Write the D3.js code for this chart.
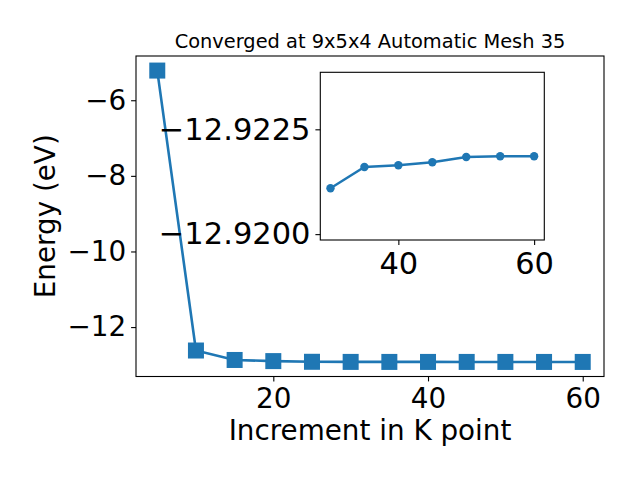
<!DOCTYPE html>
<html><head><meta charset="utf-8">
<script src="https://cdn.jsdelivr.net/npm/d3@7"></script>
<style>body{margin:0;background:#fff}svg{display:block}text{font-family:"DejaVu Sans",sans-serif}</style>
</head><body>
<script>
const kPoints = [5,10,15,20,25,30,35,40,45,50,55,60];
const energies = [-5.215,-12.62,-12.87,-12.90,-12.918,-12.921093,-12.921601,-12.921642,-12.921714,-12.92184,-12.921857,-12.921857];
const insetK = [30,35,40,45,50,55,60];
const insetE = [-12.921093,-12.921601,-12.921642,-12.921714,-12.92184,-12.921857,-12.921857];
const xTicks = [20,40,60];
const yTicks = [-6,-8,-10,-12];
const insetXTicks = [40,60];
const insetYTicks = [-12.9225,-12.9200];
const insetYLabels = ["\u221212.9225","\u221212.9200"];
const titleText = "Converged at 9x5x4 Automatic Mesh 35";
const xLabel = "Increment in K point";
const yLabel = "Energy (eV)";

const W=640,H=480, color="#1f77b4";
const svg=d3.select("body").append("svg").attr("width",W).attr("height",H);
const L=136,R=604,T=56,B=376.5;
const xr=d3.extent(kPoints), xp=(xr[1]-xr[0])*0.05;
const x=d3.scaleLinear().domain([xr[0]-xp,xr[1]+xp]).range([L,R]);
const yr=d3.extent(energies), yp=(yr[1]-yr[0])*0.05;
const y=d3.scaleLinear().domain([yr[0]-yp,yr[1]+yp]).range([B,T]);
const fmt=d=>d<0?"\u2212"+Math.abs(d):String(d);

const gx=svg.append("g").attr("transform",`translate(0,${B})`)
  .call(d3.axisBottom(x).tickValues(xTicks).tickSize(4.9).tickPadding(4.9).tickFormat(fmt));
const gy=svg.append("g").attr("transform",`translate(${L},0)`)
  .call(d3.axisLeft(y).tickValues(yTicks).tickSize(4.9).tickPadding(4.9).tickFormat(fmt));
[gx,gy].forEach(g=>{g.select(".domain").remove();g.selectAll("line").attr("stroke","#000").attr("stroke-width",1.1);
  g.selectAll("text").attr("font-size",27.8).attr("fill","#000").attr("font-family","DejaVu Sans");});
gx.selectAll("text").attr("dy","0.78em");

svg.append("path").datum(kPoints.map((k,i)=>[k,energies[i]]))
  .attr("d",d3.line().x(d=>x(d[0])).y(d=>y(d[1]))).attr("fill","none").attr("stroke",color).attr("stroke-width",2.6);
svg.selectAll("rect.m").data(kPoints).enter().append("rect").attr("class","m")
  .attr("x",(d)=>x(d)-8).attr("y",(d,i)=>y(energies[i])-8).attr("width",16).attr("height",16).attr("fill",color);
svg.append("rect").attr("x",L).attr("y",T).attr("width",R-L).attr("height",B-T).attr("fill","none").attr("stroke","#000").attr("stroke-width",1.1);

svg.append("text").attr("x",(L+R)/2).attr("y",48).attr("text-anchor","middle").attr("font-size",19.4).text(titleText);
svg.append("text").attr("x",(L+R)/2).attr("y",440).attr("text-anchor","middle").attr("font-size",27.8).text(xLabel);
svg.append("text").attr("transform",`translate(55,${(T+B)/2}) rotate(-90)`).attr("text-anchor","middle").attr("font-size",27.8).text(yLabel);

// inset
const iL=320.3,iR=544.3,iT=72.3,iB=240;
const ix=d3.scaleLinear().domain([28.5,61.5]).range([iL,iR]);
const iy=d3.scaleLinear().domain([-12.91986,-12.92386]).range([iB,iT]);
svg.append("rect").attr("x",iL).attr("y",iT).attr("width",iR-iL).attr("height",iB-iT).attr("fill","#fff");
const igx=svg.append("g").attr("transform",`translate(0,${iB})`)
  .call(d3.axisBottom(ix).tickValues(insetXTicks).tickSize(4.9).tickPadding(4.9));
const igy=svg.append("g").attr("transform",`translate(${iL},0)`)
  .call(d3.axisLeft(iy).tickValues(insetYTicks).tickSize(4.9).tickPadding(4.9).tickFormat((d,i)=>insetYLabels[i]));
[igx,igy].forEach(g=>{g.select(".domain").remove();g.selectAll("line").attr("stroke","#000").attr("stroke-width",1.1);
  g.selectAll("text").attr("font-size",30.5).attr("fill","#000").attr("font-family","DejaVu Sans");});
igx.selectAll("text").attr("dy","0.78em");
svg.append("path").datum(insetK.map((k,i)=>[k,insetE[i]]))
  .attr("d",d3.line().x(d=>ix(d[0])).y(d=>iy(d[1]))).attr("fill","none").attr("stroke",color).attr("stroke-width",2.4);
svg.selectAll("circle.im").data(insetK).enter().append("circle").attr("class","im")
  .attr("cx",d=>ix(d)).attr("cy",(d,i)=>iy(insetE[i])).attr("r",4.2).attr("fill",color);
svg.append("rect").attr("x",iL).attr("y",iT).attr("width",iR-iL).attr("height",iB-iT).attr("fill","none").attr("stroke","#000").attr("stroke-width",1.1);
</script>
</body></html>
